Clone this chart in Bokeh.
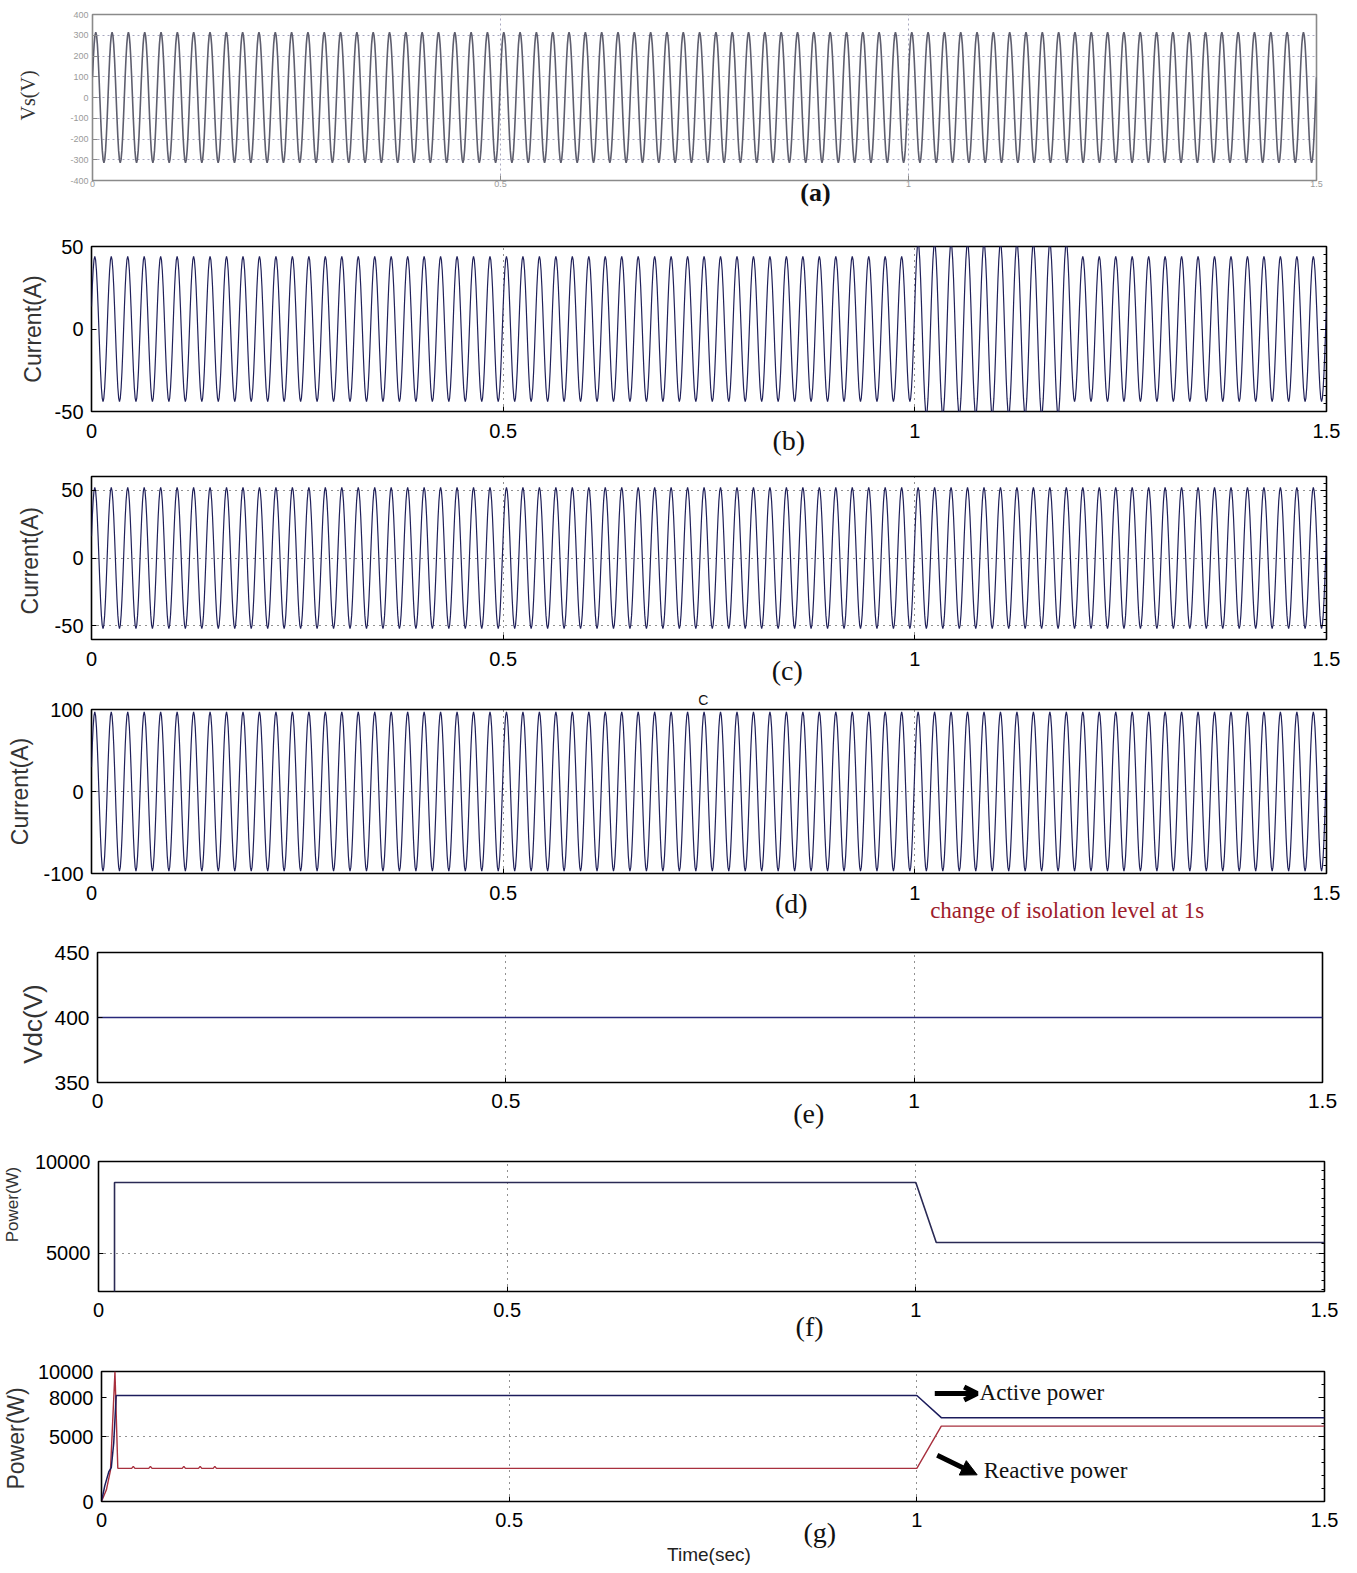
import numpy as np
from bokeh.plotting import figure
from bokeh.models import (Range1d, FixedTicker, Label, Arrow, OpenHead, NormalHead,
                          LinearAxis)
from bokeh.embed import file_html
from bokeh.resources import INLINE

# ---------------- data ----------------
FREQ_HZ = 50
T_END = 1.5
X_TICKS = [0, 0.5, 1, 1.5]
X_TICK_LABELS = ["0", "0.5", "1", "1.5"]

# one sampled cycle of the mains waveform, normalised
CYCLE_SHAPE = [0.309, 0.588, 0.809, 0.951, 1.0, 0.951, 0.809, 0.588, 0.309, 0.0,
               -0.309, -0.588, -0.809, -0.951, -1.0, -0.951, -0.809, -0.588, -0.309, 0.0]

# (a) source voltage: amplitude per time segment
VS_SEG_T = [0.0, 1.5]
VS_AMP = [315]
VS_TICKS = [-400, -300, -200, -100, 0, 100, 200, 300, 400]
VS_TICK_LABELS = ["-400", "-300", "-200", "-100", "0", "100", "200", "300", "400"]

# (b) current
IB_SEG_T = [0.0, 1.0, 1.19, 1.5]
IB_AMP = [44, 52, 44]
IB_TICKS = [-50, 0, 50]
IB_TICK_LABELS = ["-50", "0", "50"]

# (c) current
IC_SEG_T = [0.0, 1.5]
IC_AMP = [52]
IC_TICKS = [-50, 0, 50]
IC_TICK_LABELS = ["-50", "0", "50"]

# (d) current
ID_SEG_T = [0.0, 1.5]
ID_AMP = [97]
ID_TICKS = [-100, 0, 100]
ID_TICK_LABELS = ["-100", "0", "100"]

# (e) DC-link voltage
VDC_T = [0.0, 1.5]
VDC_V = [400, 400]
VDC_TICKS = [350, 400, 450]
VDC_TICK_LABELS = ["350", "400", "450"]

# (f) power
PF_T = [0.0, 0.0196, 0.0196, 1.0, 1.025, 1.5]
PF_W = [0, 0, 8850, 8850, 5580, 5580]
PF_TICKS = [5000, 10000]
PF_TICK_LABELS = ["5000", "10000"]

# (g) active and reactive power
PA_T = [0.0, 0.004, 0.009, 0.012, 0.015, 0.018, 1.0, 1.03, 1.5]
PA_W = [0, 1200, 2300, 2600, 4500, 8150, 8150, 6450, 6450]
PR_T = [0.0, 0.006, 0.011, 0.0165, 0.020, 0.037, 0.039, 0.041, 0.058, 0.060, 0.062,
        0.099, 0.101, 0.103, 0.119, 0.121, 0.123, 0.137, 0.139, 0.141, 1.0, 1.03, 1.5]
PR_W = [0, 900, 2400, 10000, 2550, 2550, 2700, 2550, 2550, 2700, 2550,
        2550, 2700, 2550, 2550, 2700, 2550, 2550, 2700, 2550, 2550, 5800, 5800]
PG_TICKS = [0, 5000, 8000, 10000]
PG_TICK_LABELS = ["0", "5000", "8000", "10000"]

# ---------------- helpers ----------------
PAGE_W = 1357
SANS = "Liberation Sans"
SERIF = "Liberation Serif"
H_RATIO = 1.15  # estimated text box height / font size


def wave(seg_t, amps):
    n = len(CYCLE_SHAPE)
    cycles = int(round(T_END * FREQ_HZ))
    t = np.arange(cycles * n + 1) / (n * FREQ_HZ)
    shape = np.array(CYCLE_SHAPE * cycles + [CYCLE_SHAPE[0]])
    idx = np.clip(np.searchsorted(seg_t, t, side="right") - 1, 0, len(amps) - 1)
    return t, shape * np.array(amps)[idx]


def make_fig(slot, frame, yr, yticks, ylabels, tick_size=20, tick_color="black",
             frame_color="black", x_standoff=12, y_standoff=8, ylab_width=30,
             right_minor=None):
    s_top, s_bot = slot
    f_left, f_top, f_right, f_bot = frame
    p = figure(width=PAGE_W, height=s_bot - s_top,
               x_range=Range1d(0, T_END), y_range=Range1d(*yr),
               output_backend="svg", toolbar_location=None,
               min_border_left=f_left, min_border_right=PAGE_W - f_right,
               min_border_top=f_top - s_top, min_border_bottom=s_bot - f_bot)
    p.background_fill_color = "white"
    p.border_fill_color = "white"
    p.outline_line_color = frame_color
    p.outline_line_width = 1.6
    for ax in (p.xaxis[0], p.yaxis[0]):
        ax.axis_line_color = None
        ax.major_tick_in = 5
        ax.major_tick_out = 0
        ax.minor_tick_line_color = None
        ax.major_tick_line_color = frame_color
        ax.major_label_text_font = SANS
        ax.major_label_text_font_size = f"{tick_size}px"
        ax.major_label_text_color = tick_color
    p.xaxis.ticker = FixedTicker(ticks=X_TICKS)
    p.xaxis.major_label_overrides = {float(k): v for k, v in zip(X_TICKS, X_TICK_LABELS)}
    p.yaxis.ticker = FixedTicker(ticks=yticks)
    p.yaxis.major_label_overrides = {float(k): v for k, v in zip(yticks, ylabels)}
    p.xaxis.major_label_standoff = x_standoff
    p.yaxis.major_label_standoff = y_standoff
    p.xgrid.ticker = FixedTicker(ticks=[0.5, 1.0])
    for g in (p.xgrid[0], p.ygrid[0]):
        g.grid_line_color = "#222222"
        g.grid_line_dash = "1 5"
        g.grid_line_width = 1
    if right_minor is not None:
        # inward tick marks on the right edge of the box, as in the scope plots
        rax = LinearAxis(ticker=FixedTicker(ticks=yticks, minor_ticks=right_minor))
        rax.major_label_overrides = {float(k): "" for k in yticks}
        rax.major_label_standoff = 0
        rax.axis_line_color = None
        rax.major_tick_in = 6
        rax.major_tick_out = 0
        rax.minor_tick_in = 3
        rax.minor_tick_out = 0
        rax.major_tick_line_color = frame_color
        rax.minor_tick_line_color = frame_color
        p.add_layout(rax, "right")
    # running extents of the side panels (px away from the frame), used while
    # stacking the text-only axes below
    p.tags = [{"below": x_standoff + H_RATIO * tick_size,
               "left": y_standoff + ylab_width}]
    return p


def text_axis(p, side, pos, text, centre_px, size, font=SANS, color="#111111",
              style="normal", orientation=None):
    """A tick-less axis whose only label is a piece of text, centred about
    centre_px pixels away from the frame on the given side."""
    h = H_RATIO * size
    cursor = p.tags[0].get(side, 0)
    standoff = int(round(centre_px - h / 2 - cursor))
    p.tags[0][side] = cursor + standoff + h
    ax = LinearAxis(ticker=FixedTicker(ticks=[pos]))
    ax.major_label_overrides = {float(pos): text}
    ax.axis_line_color = None
    ax.major_tick_line_color = None
    ax.minor_tick_line_color = None
    ax.major_tick_in = 0
    ax.major_tick_out = 0
    ax.major_label_standoff = standoff
    ax.major_label_text_font = font
    ax.major_label_text_font_size = f"{size}px"
    ax.major_label_text_color = color
    ax.major_label_text_font_style = style
    if orientation is not None:
        ax.major_label_orientation = orientation
    p.add_layout(ax, side)


NAVY = "#20205a"

# (a)
pa = make_fig((0, 218), (92, 14, 1316, 180), (-400, 400), VS_TICKS, VS_TICK_LABELS,
              tick_size=9, tick_color="#9a9a9a", frame_color="#8a8a8a",
              x_standoff=0, y_standoff=4, ylab_width=18)
pa.ygrid.ticker = FixedTicker(ticks=[-300, -200, -100, 0, 100, 200, 300])
for g in (pa.xgrid[0], pa.ygrid[0]):
    g.grid_line_color = "#a8a8c0"
    g.grid_line_dash = "2 3"
t, v = wave(VS_SEG_T, VS_AMP)
pa.line(t, v, line_color="#5e5e6e", line_width=1.6)
text_axis(pa, "left", 10, "Vs(V)", 61, 20, font=SERIF, color="#333333",
          orientation="parallel")
text_axis(pa, "below", 0.886, "(a)", 13, 26, font=SERIF, style="bold")

# (b)
pb = make_fig((218, 458), (91, 246, 1326, 411), (-50, 50), IB_TICKS, IB_TICK_LABELS,
              ylab_width=29, right_minor=list(np.arange(-45, 50, 5)))
pb.ygrid.visible = False
t, v = wave(IB_SEG_T, IB_AMP)
pb.line(t, v, line_color=NAVY, line_width=1.2)
text_axis(pb, "left", 0, "Current(A)", 56, 23, color="#333333", orientation="parallel")
text_axis(pb, "below", 0.847, "(b)", 35, 28, font=SERIF)

# (c)
pc = make_fig((458, 688), (91, 476, 1326, 642), (-60, 60), IC_TICKS, IC_TICK_LABELS,
              ylab_width=29, right_minor=list(np.arange(-55, 60, 5)))
t, v = wave(IC_SEG_T, IC_AMP)
pc.line(t, v, line_color=NAVY, line_width=1.2)
text_axis(pc, "left", -2, "Current(A)", 58, 23, color="#333333", orientation="parallel")
text_axis(pc, "below", 0.845, "(c)", 37, 28, font=SERIF)

# (d)
pd_ = make_fig((688, 930), (91, 707, 1326, 873), (-100, 100), ID_TICKS, ID_TICK_LABELS,
               ylab_width=40, right_minor=list(np.arange(-90, 100, 10)))
t, v = wave(ID_SEG_T, ID_AMP)
pd_.line(t, v, line_color=NAVY, line_width=1.2)
text_axis(pd_, "left", 0, "Current(A)", 69, 23, color="#333333", orientation="parallel")
text_axis(pd_, "below", 0.850, "(d)", 36, 28, font=SERIF)
text_axis(pd_, "below", 1.185, "change of isolation level at 1s", 41, 23, font=SERIF,
          color="#9e1c2c")
text_axis(pd_, "above", 0.743, "C", 10, 14)

# (e)
pe = make_fig((930, 1135), (97, 952, 1322, 1082), (350, 450), VDC_TICKS, VDC_TICK_LABELS,
              tick_size=21, x_standoff=11, ylab_width=35)
pe.ygrid.ticker = FixedTicker(ticks=[400])
pe.line(VDC_T, VDC_V, line_color="#28287a", line_width=1.5)
text_axis(pe, "left", 395, "Vdc(V)", 62, 26, color="#333333", orientation="parallel")
text_axis(pe, "below", 0.871, "(e)", 38, 28, font=SERIF)

# (f)
pf = make_fig((1135, 1344), (97, 1161, 1324, 1291), (2900, 10000), PF_TICKS, PF_TICK_LABELS,
              x_standoff=11, ylab_width=56, right_minor=list(np.arange(3000, 10000, 500)))
pf.ygrid.ticker = FixedTicker(ticks=[5000])
pf.line(PF_T, PF_W, line_color="#2a2a55", line_width=1.6)
text_axis(pf, "left", 7650, "Power(W)", 83, 17, color="#333333", orientation="parallel")
text_axis(pf, "below", 0.870, "(f)", 41, 28, font=SERIF)

# (g)
pg = make_fig((1344, 1573), (97, 1371, 1324, 1501), (0, 10000), PG_TICKS, PG_TICK_LABELS,
              x_standoff=11, ylab_width=56, right_minor=list(np.arange(1000, 10000, 1000)))
pg.ygrid.ticker = FixedTicker(ticks=[5000])
pg.line(PR_T, PR_W, line_color="#a8303e", line_width=1.4)
pg.line(PA_T, PA_W, line_color="#1c1c5c", line_width=1.5)
text_axis(pg, "left", 4850, "Power(W)", 82, 23, color="#333333", orientation="parallel")
text_axis(pg, "below", 0.881, "(g)", 37, 28, font=SERIF)
text_axis(pg, "below", 0.745, "Time(sec)", 57, 19, color="#222222")
pg.add_layout(Arrow(end=OpenHead(size=13, line_width=5, line_color="black"),
                    x_start=1.022, y_start=8300, x_end=1.074, y_end=8300,
                    line_width=5, line_color="black"))
pg.add_layout(Arrow(end=NormalHead(size=16, fill_color="black", line_color="black"),
                    x_start=1.025, y_start=3550, x_end=1.074, y_end=2050,
                    line_width=5, line_color="black"))
pg.add_layout(Label(x=1.077, y=8350, text="Active power", text_align="left",
                    text_baseline="middle", text_font=SERIF, text_font_size="23px",
                    text_color="#111111"))
pg.add_layout(Label(x=1.082, y=2400, text="Reactive power", text_align="left",
                    text_baseline="middle", text_font=SERIF, text_font_size="23px",
                    text_color="#111111"))

for p in (pa, pb, pc, pd_, pe, pf, pg):
    p.tags = []

open("out.html", "w").write(file_html([pa, pb, pc, pd_, pe, pf, pg], INLINE))
